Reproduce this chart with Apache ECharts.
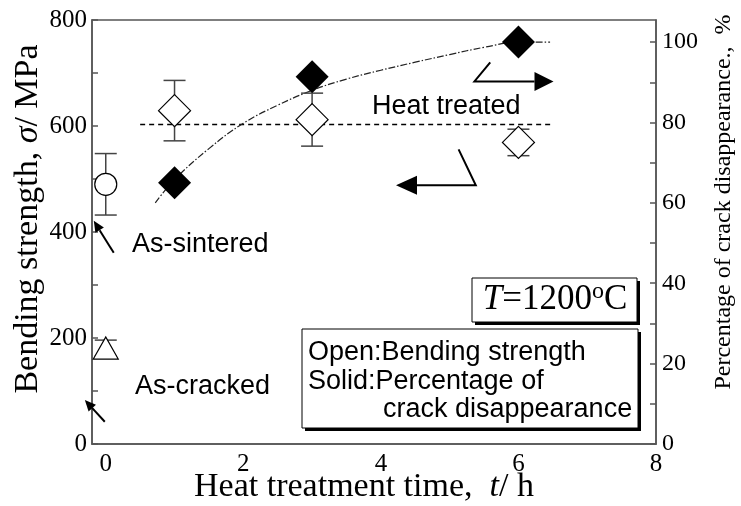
<!DOCTYPE html>
<html>
<head>
<meta charset="utf-8">
<script src="https://cdn.jsdelivr.net/npm/echarts@6/dist/echarts.min.js"></script>
<style>
  html, body { margin: 0; padding: 0; background: #fff; }
  #chart { width: 741px; height: 506px; }
</style>
</head>
<body>
<div id="chart"></div>
<script>
  // tick values
  const xTicks = [0, 2, 4, 6, 8];
  const leftTicks = [0, 200, 400, 600, 800];
  const leftMinorTicks = [0, 100, 200, 300, 400, 500, 600, 700, 800];
  const rightTicks = [0, 20, 40, 60, 80, 100];
  const rightMinorTicks = [0, 10, 20, 30, 40, 50, 60, 70, 80, 90, 100];

  // bending strength (open symbols), MPa
  const sinteredTime = [0];
  const sinteredStrength = [490];
  const sinteredErr = [58];
  const crackedTime = [0];
  const crackedStrength = [181];
  const crackedErr = [15];
  const treatedTime = [1, 3, 6];
  const treatedStrength = [629, 612, 569];
  const treatedErr = [57, 50, 25];

  // percentage of crack disappearance (solid symbols), %
  const solidTime = [1, 3, 6];
  const solidPercent = [65, 91.4, 100];

  // dash-dot trend curve
  const fitTime = [0.72, 1, 1.5, 2, 2.5, 3, 3.5, 4, 4.5, 5, 5.5, 6, 6.46];
  const fitPercent = [60, 65.8, 73.5, 79.8, 84.3, 88, 90.8, 93, 95, 96.9, 98.7, 100, 100];

  // heat treated level (dashed)
  const heatTreatedTime = [0.5, 6.5];
  const heatTreatedStrength = [603, 603];

  // annotation arrows, in data coords of the left axis (last point = tip)
  const arrowPaths = [
    [[5.59, 720], [5.36, 684], [6.51, 684]],
    [[5.13, 556], [5.38, 488], [4.22, 488]],
    [[0.116, 361], [-0.174, 421]],
    [[-0.014, 42], [-0.304, 83]]
  ];

  const SERIF = '"Liberation Serif", "Times New Roman", serif';
  const SANS = '"Liberation Sans", Arial, sans-serif';
  const AXIS_COLOR = '#555';

  const zip = (a, b) => a.map((v, i) => [v, b[i]]);
  const zip3 = (a, b, c) => a.map((v, i) => [v, b[i], c[i]]);

  const errData = []
    .concat(zip3(sinteredTime, sinteredStrength, sinteredErr))
    .concat(zip3(crackedTime, crackedStrength, crackedErr))
    .concat(zip3(treatedTime, treatedStrength, treatedErr));

  function renderErr(params, api) {
    const x = api.value(0), y = api.value(1), e = api.value(2);
    const top = api.coord([x, y + e]);
    const bot = api.coord([x, y - e]);
    const w = 11;
    const st = { stroke: '#444', lineWidth: 1.5 };
    return {
      type: 'group',
      children: [
        { type: 'line', shape: { x1: top[0], y1: top[1], x2: bot[0], y2: bot[1] }, style: st },
        { type: 'line', shape: { x1: top[0] - w, y1: top[1], x2: top[0] + w, y2: top[1] }, style: st },
        { type: 'line', shape: { x1: bot[0] - w, y1: bot[1], x2: bot[0] + w, y2: bot[1] }, style: st }
      ]
    };
  }

  const headLen = [19, 21, 11, 11];
  const headHalf = [9.5, 9.5, 5, 5];

  function renderArrow(params, api) {
    const i = params.dataIndex;
    const pts = arrowPaths[i].map(p => api.coord(p));
    const tip = pts[pts.length - 1];
    const prev = pts[pts.length - 2];
    let dx = tip[0] - prev[0], dy = tip[1] - prev[1];
    const d = Math.sqrt(dx * dx + dy * dy);
    dx /= d; dy /= d;
    const base = [tip[0] - dx * headLen[i], tip[1] - dy * headLen[i]];
    const line = pts.slice(0, -1).concat([base]);
    const h = headHalf[i];
    return {
      type: 'group',
      children: [
        { type: 'polyline', shape: { points: line }, style: { stroke: '#000', lineWidth: 2, fill: null } },
        {
          type: 'polygon',
          shape: { points: [tip, [base[0] - dy * h, base[1] + dx * h], [base[0] + dy * h, base[1] - dx * h]] },
          style: { fill: '#000' }
        }
      ]
    };
  }

  // T=1200°C label, built piece by piece so the degree sign sits high
  const ctx = document.createElement('canvas').getContext('2d');
  const tempParts = [
    { text: 'T', font: 'italic 35px ' + SERIF, dy: 0 },
    { text: '=1200', font: '35px ' + SERIF, dy: 0 },
    { text: 'o', font: '24px ' + SERIF, dy: -8 },
    { text: 'C', font: '35px ' + SERIF, dy: 0 }
  ];
  tempParts.forEach(p => { ctx.font = p.font; p.w = ctx.measureText(p.text).width; });
  const tempTotal = tempParts.reduce((s, p) => s + p.w, 0);
  let tempX = 555 - tempTotal / 2;
  const tempGraphics = tempParts.map(p => {
    const g = { type: 'text', x: tempX, y: 300 + p.dy, style: { text: p.text, font: p.font, fill: '#000', verticalAlign: 'middle' } };
    tempX += p.w;
    return g;
  });

  const chart = echarts.init(document.getElementById('chart'));

  const option = {
    animation: false,
    backgroundColor: '#fff',
    grid: {
      left: 92, right: 85, top: 20, bottom: 62,
      show: true, borderColor: AXIS_COLOR, borderWidth: 1.5
    },
    xAxis: {
      type: 'value', min: -0.2, max: 8,
      axisLine: { show: true, onZero: false, lineStyle: { color: AXIS_COLOR, width: 1.5 } },
      axisTick: { show: false },
      splitLine: { show: false },
      axisLabel: { customValues: xTicks, color: '#000', fontFamily: SERIF, fontSize: 25, margin: 8 }
    },
    yAxis: [{
      type: 'value', min: 0, max: 800, position: 'left',
      axisLine: { show: true, onZero: false, lineStyle: { color: AXIS_COLOR, width: 1.5 } },
      axisTick: { show: true, inside: true, length: 6, customValues: leftMinorTicks, lineStyle: { color: AXIS_COLOR, width: 1.5 } },
      splitLine: { show: false },
      axisLabel: { customValues: leftTicks, color: '#000', fontFamily: SERIF, fontSize: 25, margin: 5 }
    }, {
      type: 'value', min: 0, max: 105.5, position: 'right',
      axisLine: { show: true, onZero: false, lineStyle: { color: AXIS_COLOR, width: 1.5 } },
      axisTick: { show: true, inside: true, length: 6, customValues: rightMinorTicks, lineStyle: { color: AXIS_COLOR, width: 1.5 } },
      splitLine: { show: false },
      axisLabel: { customValues: rightTicks, color: '#000', fontFamily: SERIF, fontSize: 24, margin: 6 }
    }],
    series: [
      {
        name: 'heat treated', type: 'line', yAxisIndex: 0,
        data: zip(heatTreatedTime, heatTreatedStrength),
        symbol: 'none', z: 1,
        lineStyle: { color: '#000', width: 1.5, type: [5, 4] }
      },
      {
        name: 'trend', type: 'line', yAxisIndex: 1,
        data: zip(fitTime, fitPercent),
        symbol: 'none', smooth: 0.4, z: 1,
        lineStyle: { color: '#222', width: 1.2, type: [7, 2, 1.5, 2] }
      },
      {
        name: 'error', type: 'custom', yAxisIndex: 0,
        renderItem: renderErr, data: errData, z: 2
      },
      {
        name: 'as-sintered', type: 'scatter', yAxisIndex: 0,
        data: zip(sinteredTime, sinteredStrength),
        symbol: 'circle', symbolSize: 22, z: 3,
        itemStyle: { color: '#fff', borderColor: '#000', borderWidth: 1.2, opacity: 1 }
      },
      {
        name: 'as-cracked', type: 'scatter', yAxisIndex: 0,
        data: zip(crackedTime, crackedStrength),
        symbol: 'triangle', symbolSize: [25, 22], z: 3,
        itemStyle: { color: '#fff', borderColor: '#000', borderWidth: 1.2, opacity: 1 }
      },
      {
        name: 'bending strength', type: 'scatter', yAxisIndex: 0,
        data: zip(treatedTime, treatedStrength),
        symbol: 'diamond', symbolSize: 32, z: 3,
        itemStyle: { color: '#fff', borderColor: '#000', borderWidth: 1.2, opacity: 1 }
      },
      {
        name: 'crack disappearance', type: 'scatter', yAxisIndex: 1,
        data: zip(solidTime, solidPercent),
        symbol: 'diamond', symbolSize: 33, z: 4,
        itemStyle: { color: '#000', opacity: 1 }
      },
      {
        name: 'arrows', type: 'custom', yAxisIndex: 0, clip: false,
        renderItem: renderArrow, data: arrowPaths.map((p, i) => [i]), z: 5
      }
    ],
    graphic: [
      { type: 'text', left: 372, top: 93, style: { text: 'Heat treated', font: '27px ' + SANS, fill: '#000' } },
      { type: 'text', left: 132, top: 231, style: { text: 'As-sintered', font: '27px ' + SANS, fill: '#000' } },
      { type: 'text', left: 135, top: 373, style: { text: 'As-cracked', font: '27px ' + SANS, fill: '#000' } },

      { type: 'rect', shape: { x: 475, y: 281, width: 165, height: 44 }, style: { fill: '#000' } },
      { type: 'rect', shape: { x: 472, y: 278, width: 165, height: 44 }, style: { fill: '#fff', stroke: '#000', lineWidth: 1 } }
    ].concat(tempGraphics).concat([
      { type: 'rect', shape: { x: 305, y: 332, width: 336, height: 99 }, style: { fill: '#000' } },
      { type: 'rect', shape: { x: 302, y: 329, width: 336, height: 99 }, style: { fill: '#fff', stroke: '#000', lineWidth: 1 } },
      { type: 'text', x: 308, y: 353, style: { text: 'Open:Bending strength', font: '27px ' + SANS, fill: '#000', verticalAlign: 'middle' } },
      { type: 'text', x: 308, y: 382, style: { text: 'Solid:Percentage of', font: '27px ' + SANS, fill: '#000', verticalAlign: 'middle' } },
      { type: 'text', x: 383, y: 410, style: { text: 'crack disappearance', font: '27px ' + SANS, fill: '#000', verticalAlign: 'middle' } },

      {
        type: 'text', x: 28, y: 219, rotation: Math.PI / 2,
        style: {
          text: '{n|Bending strength, }{i|σ}{n|/ MPa}',
          align: 'center', verticalAlign: 'middle',
          rich: {
            n: { fontFamily: SERIF, fontSize: 34 },
            i: { fontFamily: SERIF, fontSize: 34, fontStyle: 'italic' }
          }
        }
      },
      {
        type: 'text', x: 724, y: 202, rotation: Math.PI / 2,
        style: {
          text: 'Percentage of crack disappearance.,  %',
          font: '24px ' + SERIF, fill: '#000',
          align: 'center', verticalAlign: 'middle'
        }
      },
      {
        type: 'text', x: 364, y: 487,
        style: {
          text: '{n|Heat treatment time,  }{i|t}{n|/ h}',
          align: 'center', verticalAlign: 'middle',
          rich: {
            n: { fontFamily: SERIF, fontSize: 34 },
            i: { fontFamily: SERIF, fontSize: 34, fontStyle: 'italic' }
          }
        }
      }
    ])
  };

  chart.setOption(option);
</script>
</body>
</html>
